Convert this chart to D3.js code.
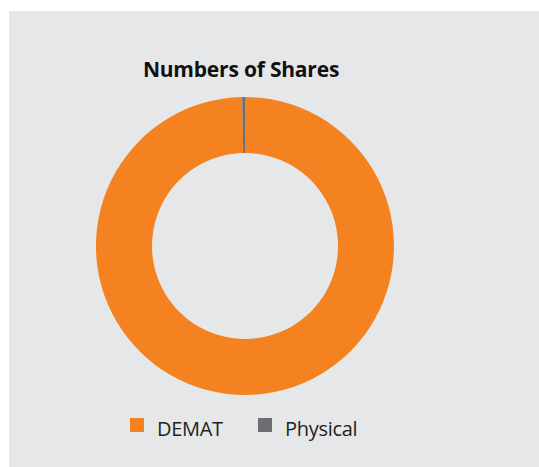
<!DOCTYPE html>
<html>
<head>
<meta charset="utf-8">
<script src="https://cdn.jsdelivr.net/npm/d3@7"></script>
<style>
  html, body { margin: 0; padding: 0; background: #ffffff; }
  svg { display: block; }
</style>
</head>
<body>
<svg id="chart" width="539" height="467"></svg>
<script>
// Share holding split by form
const categories = ["DEMAT", "Physical"];
const values = [99.7, 0.3];
const colors = ["#f58220", "#6d6e71"];
const title = "Numbers of Shares";

const svg = d3.select("#chart");
const W = 539, H = 467;

// panel background
svg.append("rect")
  .attr("x", 9).attr("y", 11)
  .attr("width", W - 9).attr("height", H - 11)
  .attr("fill", "#e6e7e8");

svg.append("text")
  .attr("x", 241).attr("y", 77)
  .attr("text-anchor", "middle")
  .attr("font-family", "'Open Sans', sans-serif")
  .attr("font-weight", 700)
  .attr("font-size", 21)
  .attr("letter-spacing", -0.2)
  .attr("fill", "#111111")
  .text(title);

const cx = 245, cy = 246, outerR = 149, innerR = 93;

const pie = d3.pie().sort(null).value(d => d.value);
const arc = d3.arc().innerRadius(innerR).outerRadius(outerR);
const data = categories.map((c, i) => ({ name: c, value: values[i], color: colors[i] }));

svg.append("g")
  .attr("transform", `translate(${cx},${cy})`)
  .selectAll("path")
  .data(pie(data))
  .join("path")
  .attr("d", arc)
  .attr("fill", d => d.data.color);

// legend
const legendX = [130, 258];
const legend = svg.append("g");
data.forEach((d, i) => {
  const g = legend.append("g").attr("transform", `translate(${legendX[i]},418)`);
  g.append("rect").attr("width", 14).attr("height", 14).attr("fill", d.color);
  g.append("text")
    .attr("x", 27).attr("y", 18)
    .attr("font-family", "'Open Sans', sans-serif")
    .attr("font-size", 20)
    .attr("letter-spacing", -0.3)
    .attr("fill", "#231f20")
    .text(d.name);
});
</script>
</body>
</html>
